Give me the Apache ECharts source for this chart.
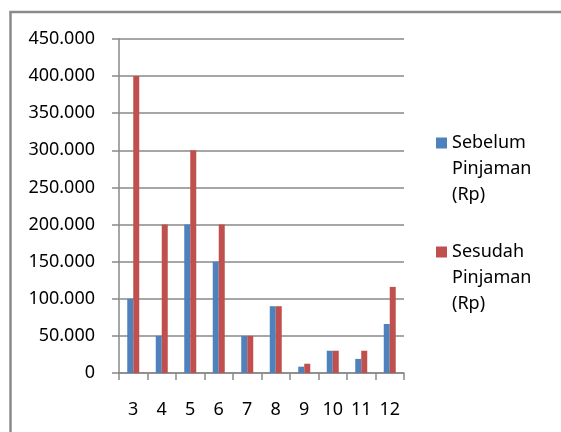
<!DOCTYPE html>
<html>
<head>
<meta charset="utf-8">
<script src="https://cdn.jsdelivr.net/npm/echarts@6/dist/echarts.min.js"></script>
<style>
html,body{margin:0;padding:0;background:#fff;}
#chart{width:561px;height:432px;}
</style>
</head>
<body>
<div id="chart"></div>
<script>
var categories = ['3', '4', '5', '6', '7', '8', '9', '10', '11', '12'];
var sebelum = [100000, 50000, 200000, 150000, 50000, 90000, 8500, 30000, 19000, 66000];
var sesudah = [400000, 200000, 300000, 200000, 50000, 90000, 12500, 30000, 30000, 116000];
var seriesNames = ['Sebelum Pinjaman (Rp)', 'Sesudah Pinjaman (Rp)'];
var yTicks = {min: 0, max: 450000, interval: 50000};

var FONT = 'Noto Sans';
var GRAY = '#898989';

function fmt(v) {
  return String(v).replace(/\B(?=(\d{3})+(?!\d))/g, '.');
}
function legendText(name) {
  return '\n\n' + name.split(' ').join('\n');
}

var chart = echarts.init(document.getElementById('chart'));
chart.setOption({
  animation: false,
  backgroundColor: '#fff',
  graphic: [{
    type: 'rect',
    shape: {x: 10.5, y: 12, width: 700, height: 600},
    style: {fill: 'none', stroke: '#8a8a8a', lineWidth: 2.5},
    silent: true
  }],
  grid: {left: 119, right: 157, top: 39, bottom: 59, containLabel: false},
  legend: [{
    data: [seriesNames[0]],
    orient: 'vertical',
    left: 436, top: 78, padding: 0,
    icon: 'rect', itemWidth: 11, itemHeight: 11,
    formatter: legendText,
    textStyle: {fontFamily: FONT, fontSize: 18, lineHeight: 26, color: '#000'}
  }, {
    data: [seriesNames[1]],
    orient: 'vertical',
    left: 436, top: 187, padding: 0,
    icon: 'rect', itemWidth: 11, itemHeight: 11,
    formatter: legendText,
    textStyle: {fontFamily: FONT, fontSize: 18, lineHeight: 26, color: '#000'}
  }],
  xAxis: {
    type: 'category',
    data: categories,
    axisLine: {lineStyle: {color: GRAY, width: 1.5}},
    axisTick: {show: true, length: 7, lineStyle: {color: GRAY, width: 1.5}},
    axisLabel: {fontFamily: FONT, fontSize: 18, color: '#000', margin: 28, interval: 0},
    splitLine: {show: false}
  },
  yAxis: {
    type: 'value',
    min: yTicks.min, max: yTicks.max, interval: yTicks.interval,
    axisLine: {show: true, lineStyle: {color: GRAY, width: 1.5}},
    axisTick: {show: true, length: 7, lineStyle: {color: GRAY, width: 1.5}},
    axisLabel: {fontFamily: FONT, fontSize: 18, color: '#000', margin: 24, formatter: fmt},
    splitLine: {show: true, lineStyle: {color: GRAY, width: 1.5}}
  },
  series: [{
    name: seriesNames[0],
    type: 'bar',
    data: sebelum,
    barWidth: 6,
    barGap: '0%',
    itemStyle: {color: '#4f81bd'}
  }, {
    name: seriesNames[1],
    type: 'bar',
    data: sesudah,
    barWidth: 6,
    barGap: '0%',
    itemStyle: {color: '#c0504d'}
  }]
});
</script>
</body>
</html>
